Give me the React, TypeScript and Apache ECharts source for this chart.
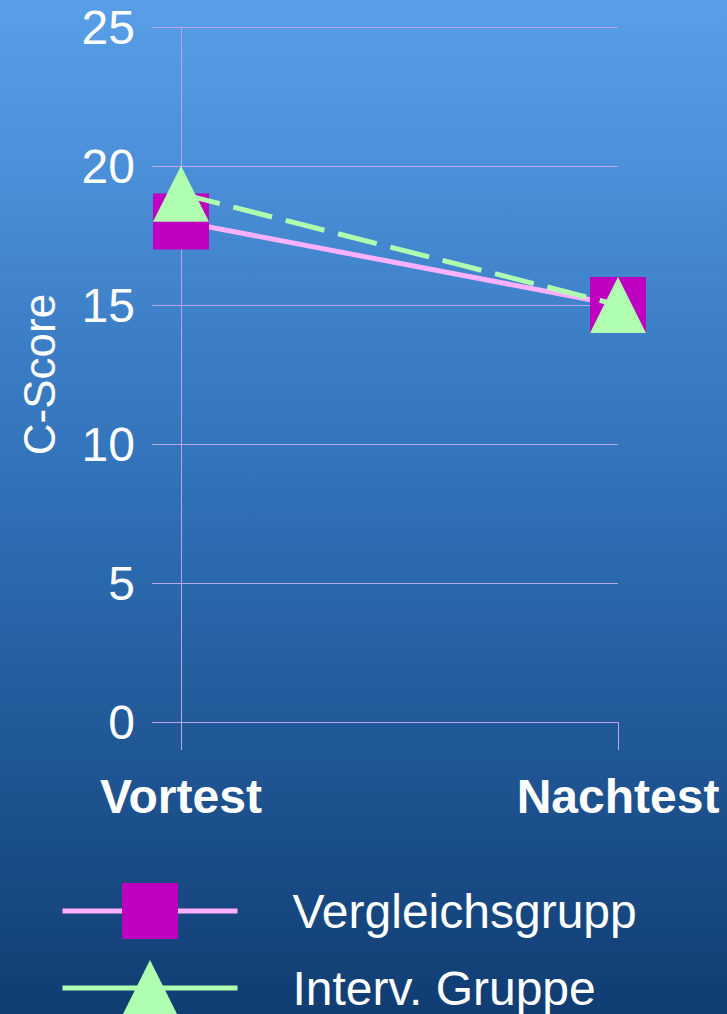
import React, { useEffect, useRef } from "react";
import * as echarts from "echarts";

const categories = ["Vortest", "Nachtest"];
const vergleichsgruppe = [18, 15];
const intervGruppe = [19, 15];
const seriesNames = ["Vergleichsgrupp", "Interv. Gruppe"];
const yTicks = { min: 0, max: 25, interval: 5 };

const FONT = "'Liberation Sans', Arial, sans-serif";
const GRIDC = "#b9a6e6";

const legendBase = {
  orient: "horizontal",
  left: 55,
  itemWidth: 175,
  itemHeight: 70,
  lineStyle: { width: 5, type: "solid" },
  textStyle: { color: "#ffffff", fontSize: 48, fontFamily: FONT, padding: [0, 0, 0, 50] },
};

export default function App() {
  const ref = useRef<HTMLDivElement>(null);
  useEffect(() => {
    document.body.style.margin = "0";
    const chart = echarts.init(ref.current!, null, { renderer: "svg" });
    chart.setOption({
      animation: false,
      backgroundColor: new echarts.graphic.LinearGradient(0, 0, 0, 1, [
        { offset: 0, color: "#589fe8" },
        { offset: 0.5, color: "#2f6fb6" },
        { offset: 1, color: "#103d72" },
      ]),
      grid: { left: 181, right: 109, top: 27, bottom: 292, containLabel: false },
      legend: [
        { ...legendBase, top: 878, data: [seriesNames[0]] },
        { ...legendBase, top: 955, data: [seriesNames[1]] },
      ],
      xAxis: {
        type: "category",
        data: categories,
        boundaryGap: false,
        axisLine: { show: true, lineStyle: { color: GRIDC, width: 1 } },
        axisTick: { show: true, length: 28, lineStyle: { color: GRIDC, width: 1 } },
        axisLabel: {
          color: "#ffffff",
          fontSize: 48,
          fontWeight: "bold",
          fontFamily: FONT,
          margin: 50,
        },
        splitLine: { show: false },
      },
      yAxis: {
        type: "value",
        min: yTicks.min,
        max: yTicks.max,
        interval: yTicks.interval,
        name: "C-Score",
        nameLocation: "middle",
        nameGap: 120,
        nameTextStyle: { color: "#ffffff", fontSize: 44, fontFamily: FONT },
        axisLine: { show: true, lineStyle: { color: GRIDC, width: 1 } },
        axisTick: { show: true, length: 29, lineStyle: { color: GRIDC, width: 1 } },
        axisLabel: { color: "#ffffff", fontSize: 48, fontFamily: FONT, margin: 46 },
        splitLine: { show: true, lineStyle: { color: GRIDC, width: 1 } },
      },
      series: [
        {
          name: seriesNames[0],
          type: "line",
          data: vergleichsgruppe,
          symbol: "rect",
          symbolSize: 56,
          itemStyle: { color: "#c000c0" },
          lineStyle: { color: "#ffb0ff", width: 5, type: "solid" },
          z: 2,
        },
        {
          name: seriesNames[1],
          type: "line",
          data: intervGruppe,
          symbol: "triangle",
          symbolSize: 56,
          itemStyle: { color: "#b0ffb0" },
          lineStyle: { color: "#b0ffb0", width: 5, type: [40, 14] },
          z: 3,
        },
      ],
    });
    return () => chart.dispose();
  }, []);
  return (
    <div
      ref={ref}
      style={{ position: "absolute", left: 0, top: 0, width: 727, height: 1014 }}
    />
  );
}
